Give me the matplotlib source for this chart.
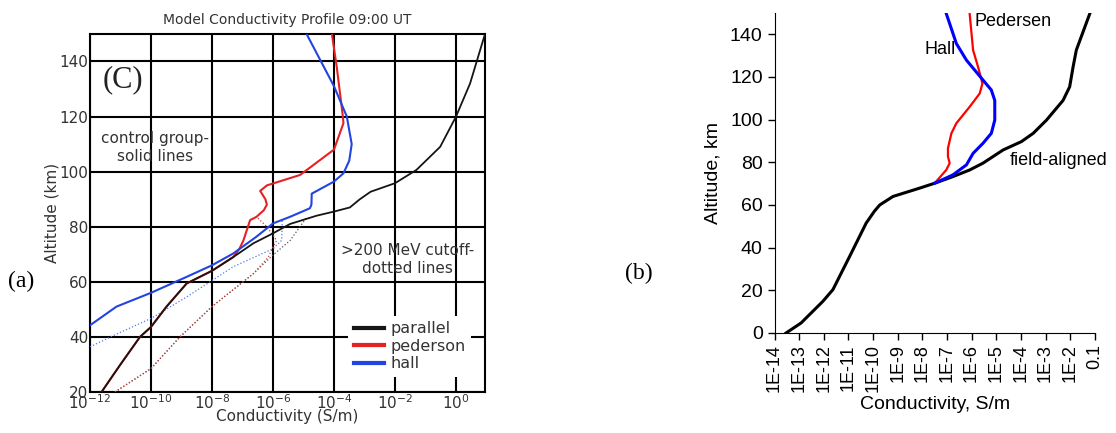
import numpy as np
import matplotlib
matplotlib.use('Agg')
import matplotlib.pyplot as plt

# ---- panel (a): model conductivity profile, log10(S/m) vs altitude (km)
par_alt = [20, 30, 40, 43.6, 51, 59.4, 64, 69, 74, 77.6, 81, 84, 85.5, 87, 90, 92.7, 95.8, 100.6, 109, 120, 132, 150]
par_log = [-11.62, -11.0, -10.36, -10.0, -9.49, -8.83, -8.0, -7.3, -6.64, -6.0, -5.44, -4.57, -4.0, -3.48, -3.15, -2.8, -2.0, -1.3, -0.52, 0.0, 0.46, 0.95]

ped_alt = [20, 30, 40, 43.6, 51, 59.4, 64, 69, 72, 75, 82.4, 83.6, 86, 88, 90, 93, 95, 98.8, 108, 117.6, 121, 138, 150]
ped_log = [-11.62, -11.0, -10.36, -10.0, -9.49, -8.83, -8.0, -7.3, -7.1, -6.97, -6.75, -6.54, -6.3, -6.2, -6.25, -6.42, -6.2, -5.11, -4.0, -3.69, -3.72, -3.91, -4.07]

hall_alt = [44.2, 51, 56, 61.8, 66, 70.3, 76.4, 81.2, 83.6, 86.7, 88, 92, 96.4, 99.4, 104, 110, 120, 131, 150]
hall_log = [-12.0, -11.13, -10.0, -8.83, -8.0, -7.3, -6.54, -6.0, -5.44, -4.79, -4.74, -4.73, -4.0, -3.69, -3.5, -3.42, -3.58, -4.0, -4.9]

# >200 MeV cutoff (dotted)
par_d_alt = [20, 28.5, 40, 51, 63, 69.7, 75, 81.8, 83.5]
par_d_log = [-11.18, -10.0, -9.05, -8.0, -6.64, -6.0, -5.44, -5.0, -4.9]

ped_d_alt = [20, 28.5, 40, 51, 63, 69, 72.7, 75, 80, 83.6]
ped_d_log = [-11.18, -10.0, -9.05, -8.0, -6.64, -6.15, -6.0, -5.88, -6.2, -6.54]

hall_d_alt = [36.4, 41, 46.7, 54.5, 65.5, 72, 75, 79, 82.4]
hall_d_log = [-12.0, -11.13, -10.0, -8.83, -7.3, -6.0, -5.72, -5.7, -5.7]

xa_ticks = [1e-12, 1e-10, 1e-8, 1e-6, 1e-4, 1e-2, 1e0]
xa_labels = ['$10^{-12}$', '$10^{-10}$', '$10^{-8}$', '$10^{-6}$', '$10^{-4}$', '$10^{-2}$', '$10^{0}$']

# ---- panel (b)
fa_alt = [0, 4.7, 14.8, 20.3, 35.9, 51.5, 57, 60, 64, 67.9, 70.2, 73.3, 76.4, 79.6, 85.8, 89.7, 93.6, 99.8, 109, 115.4, 124.8, 132.6, 149.8]
fa_log = [-13.53, -12.92, -12.04, -11.63, -10.95, -10.28, -9.95, -9.73, -9.19, -8.11, -7.5, -6.76, -6.08, -5.54, -4.72, -3.98, -3.5, -2.96, -2.29, -2.02, -1.88, -1.75, -1.2]

pb_alt = [70.2, 76.4, 79.6, 82.7, 86.6, 93.6, 98.3, 106, 112.3, 117, 124.8, 132.6, 149.8]
pb_log = [-7.5, -7.03, -6.89, -6.96, -6.96, -6.82, -6.62, -6.08, -5.67, -5.56, -5.74, -5.94, -6.08]

hb_alt = [70.2, 74.1, 78.8, 84.2, 88.9, 93.6, 99.8, 109, 113.9, 118.6, 127.9, 135.7, 149.8]
hb_log = [-7.5, -6.76, -6.21, -5.94, -5.54, -5.2, -5.06, -5.06, -5.2, -5.54, -6.21, -6.62, -7.03]

xb_ticks = [1e-14, 1e-13, 1e-12, 1e-11, 1e-10, 1e-9, 1e-8, 1e-7, 1e-6, 1e-5, 1e-4, 1e-3, 1e-2, 1e-1]
xb_labels = ['1E-14', '1E-13', '1E-12', '1E-11', '1E-10', '1E-9', '1E-8', '1E-7', '1E-6', '1E-5', '1E-4', '1E-3', '1E-2', '0.1']

def p10(a):
    return 10.0 ** np.array(a)

fig = plt.figure(figsize=(11.16, 4.33), dpi=100)
gray = '#333333'

# ----------------------- (a)
ax1 = fig.add_axes([0.0806, 0.0947, 0.354, 0.827])
blk, red, blu = '#151515', '#e52222', '#2244e0'
ax1.plot(p10(par_d_log), par_d_alt, color='#555555', lw=0.9, ls=':', zorder=3)
ax1.plot(p10(ped_d_log), ped_d_alt, color='#c04040', lw=0.9, ls=':', zorder=3)
ax1.plot(p10(hall_d_log), hall_d_alt, color='#5577ee', lw=0.9, ls=':', zorder=3)
ax1.plot(p10(ped_log), ped_alt, color=red, lw=1.5, label='pederson', zorder=4)
ax1.plot(p10(par_log), par_alt, color=blk, lw=1.3, label='parallel', zorder=5)
ax1.plot(p10(hall_log), hall_alt, color=blu, lw=1.5, label='hall', zorder=4)

ax1.set_xscale('log')
ax1.set_xlim(1e-12, 10 ** 0.95)
ax1.set_ylim(20, 150)
ax1.set_xticks(xa_ticks)
ax1.set_xticklabels(xa_labels, fontsize=11, color=gray)
ax1.minorticks_off()
ax1.set_yticks([20, 40, 60, 80, 100, 120, 140])
ax1.tick_params(axis='y', labelsize=11, labelcolor=gray, length=0, pad=1)
ax1.tick_params(axis='x', length=0, pad=1)
ax1.grid(True, color='black', lw=1.5)
ax1.set_axisbelow(True)
for s in ax1.spines.values():
    s.set_linewidth(1.5)
ax1.set_xlabel('Conductivity (S/m)', fontsize=11, color=gray, labelpad=-2)
ax1.set_ylabel('Altitude (km)', fontsize=11, color=gray, labelpad=0)
ax1.set_title('Model Conductivity Profile 09:00 UT', fontsize=10, color=gray, pad=7)

h, l = ax1.get_legend_handles_labels()
order = [1, 0, 2]
leg = ax1.legend([h[i] for i in order], [l[i] for i in order], loc='lower right',
                 bbox_to_anchor=(0.985, 0.02), frameon=True, fontsize=11.5, handlelength=1.9,
                 labelspacing=0.15, handletextpad=0.4, borderpad=0.35)
leg.get_frame().set_edgecolor('none')
leg.get_frame().set_facecolor('white')
leg.get_frame().set_alpha(1.0)
for ln in leg.get_lines():
    ln.set_linewidth(3)
for t in leg.get_texts():
    t.set_color(gray)

ax1.text(10 ** -11.6, 133.5, '(C)', family='Liberation Serif', fontsize=22, ha='left', va='center', color='#222222')
ax1.text(10 ** -9.87, 108.8, 'control group-\nsolid lines', fontsize=11, ha='center', va='center',
         color=gray, linespacing=1.25)
ax1.text(10 ** -1.6, 68.2, '>200 MeV cutoff-\ndotted lines', fontsize=11, ha='center', va='center',
         color=gray, linespacing=1.25)
fig.text(0.007, 0.349, '(a)', family='Liberation Serif', fontsize=17, ha='left', va='center')

# ----------------------- (b)
ax2 = fig.add_axes([0.694, 0.231, 0.287, 0.739])
ax2.plot(p10(fa_log), fa_alt, color='black', lw=2.2, zorder=3)
ax2.plot(p10(pb_log), pb_alt, color='#ff0000', lw=1.6, zorder=4)
ax2.plot(p10(hb_log), hb_alt, color='#0000ff', lw=2.2, zorder=4)
ax2.set_xscale('log')
ax2.set_xlim(1e-14, 1e-1)
ax2.set_ylim(0, 150)
ax2.set_xticks(xb_ticks)
ax2.set_xticklabels(xb_labels, rotation=90, family='Liberation Sans', fontsize=13)
ax2.minorticks_off()
ax2.set_yticks([0, 20, 40, 60, 80, 100, 120, 140])
for lab in ax2.get_yticklabels():
    lab.set_family('Liberation Sans')
ax2.tick_params(axis='y', labelsize=14, direction='out', length=5, width=1)
ax2.tick_params(axis='x', direction='out', length=5, width=1, pad=3)
ax2.spines['top'].set_visible(False)
ax2.spines['right'].set_visible(False)
ax2.set_xlabel('Conductivity, S/m', family='Liberation Sans', fontsize=14, labelpad=3)
ax2.set_ylabel('Altitude, km', family='Liberation Sans', fontsize=14, labelpad=6)
ax2.text(10 ** -5.9, 146, 'Pedersen', family='Liberation Sans', fontsize=13, ha='left', va='center')
ax2.text(10 ** -7.9, 133, 'Hall', family='Liberation Sans', fontsize=13, ha='left', va='center')
ax2.text(10 ** -4.45, 81, 'field-aligned', family='Liberation Sans', fontsize=13, ha='left', va='center')
fig.text(0.560, 0.369, '(b)', family='Liberation Serif', fontsize=17, ha='left', va='center')

fig.savefig('out.png', dpi=100)
